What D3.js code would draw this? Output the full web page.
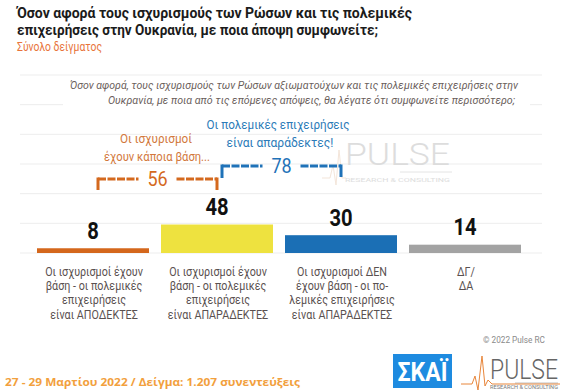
<!DOCTYPE html>
<html><head><meta charset="utf-8">
<script src="https://cdn.jsdelivr.net/npm/d3@7"></script>
<style>
html,body{margin:0;padding:0;background:#fff;}
svg{display:block;font-family:Roboto,"Noto Sans",sans-serif;}
</style></head>
<body><svg id="chart" width="576" height="391"></svg>
<script>
// ---- data ----
const categories = ["accept", "unacceptable", "nobasis", "dkna"];
const values = [8, 48, 30, 14];
const barColors = ["#D4671C", "#EEE23F", "#1B6FB5", "#A3A3A3"];
const categoryLabels = [
  ["Οι ισχυρισμοί έχουν", "βάση - οι πολεμικές", "επιχειρήσεις", "είναι ΑΠΟΔΕΚΤΕΣ"],
  ["Οι ισχυρισμοί έχουν", "βάση - οι πολεμικές", "επιχειρήσεις", "είναι ΑΠΑΡΑΔΕΚΤΕΣ"],
  ["Οι ισχυρισμοί ΔΕΝ", "έχουν βάση - οι πο-", "λεμικές επιχειρήσεις", "είναι ΑΠΑΡΑΔΕΚΤΕΣ"],
  ["ΔΓ/", "ΔΑ"]
];
const gridTicks = [0, 50, 100, 150, 200, 250, 300];
const groupTotals = [
  {label: "56", from: "accept", to: "unacceptable", color: "#D4691E", text: ["Οι ισχυρισμοί", "έχουν κάποια βάση..."], textColor: "#D2783C"},
  {label: "78", from: "unacceptable", to: "nobasis", color: "#1F72B8", text: ["Οι πολεμικές επιχειρήσεις", "είναι απαράδεκτες!"], textColor: "#2C7BB8"}
];
const titleLines = ["Όσον αφορά τους ισχυρισμούς των Ρώσων και τις πολεμικές", "επιχειρήσεις στην Ουκρανία, με ποια άποψη συμφωνείτε;"];
const subtitle = "Σύνολο δείγματος";
const questionLines = ["Όσον αφορά, τους ισχυρισμούς των Ρώσων αξιωματούχων και τις πολεμικές επιχειρήσεις στην",
  "Ουκρανία, με ποια από τις επόμενες απόψεις, θα λέγατε ότι συμφωνείτε περισσότερο;"];
const footer = "27 - 29  Μαρτίου  2022  /  Δείγμα:  1.207 συνεντεύξεις";
const copyright = "© 2022 Pulse RC";

// ---- layout ----
const svg = d3.select("#chart");
const x = d3.scaleBand().domain(categories).range([31, 527]).paddingInner(0.0968).paddingOuter(0.0484);
const y = d3.scaleLinear().domain([0, 300]).range([253, 75]);
const cx = c => x(c) + x.bandwidth() / 2;

function ctext(parent, px, py, str, o) {
  const g = parent.append("g").attr("transform", `translate(${px},${py}) scale(${o.sx || 1},1)`);
  const t = g.append("text").attr("x", 0).attr("y", 0)
    .attr("text-anchor", o.anchor || "middle")
    .attr("font-size", o.size).attr("font-weight", o.weight || 400)
    .attr("font-style", o.style || "normal")
    .attr("font-family", o.family || "Roboto")
    .attr("fill", o.color || "#000").text(str);
  if (o.len) t.attr("textLength", o.len).attr("lengthAdjust", "spacingAndGlyphs");
  return t;
}

// gridlines (the one behind the question text is interrupted)
svg.append("g").selectAll("line").data(gridTicks).join("line")
  .attr("x1", 20).attr("x2", 542)
  .attr("y1", d => y(d)).attr("y2", d => y(d))
  .attr("stroke", "#EDEDED").attr("stroke-width", 1)
  .attr("stroke-dasharray", d => d === 250 ? "43,467,12" : null);

// title
ctext(svg, 17, 17.5, titleLines[0], {anchor: "start", size: 15.5, weight: 700, color: "#1b1b1b", len: 395});
ctext(svg, 17, 35, titleLines[1], {anchor: "start", size: 15.5, weight: 700, color: "#1b1b1b", len: 361});
ctext(svg, 17, 50.5, subtitle, {anchor: "start", size: 12.5, color: "#E8743B", len: 85});

// question
ctext(svg, 70, 89, questionLines[0], {anchor: "start", size: 11.5, style: "italic", color: "#6a5e5b", len: 448});
ctext(svg, 108, 104, questionLines[1], {anchor: "start", size: 11.5, style: "italic", color: "#6a5e5b", len: 407});

// watermark
const wm = svg.append("g").attr("opacity", 0.9);
ctext(wm, 345, 165, "PULSE", {anchor: "start", size: 32, weight: 300, color: "#DADADA", len: 105});
wm.append("line").attr("x1", 400).attr("x2", 452).attr("y1", 172).attr("y2", 172).attr("stroke", "#E2E2E2");
ctext(wm, 345, 182, "RESEARCH & CONSULTING", {anchor: "start", size: 6, color: "#DADADA", len: 105});
wm.append("path").attr("d", "M322,178 L330,178 L333,165 L336,185 L339,150 L342,178 L346,178")
  .attr("fill", "none").attr("stroke", "#F3E3D6").attr("stroke-width", 1);

// bars
svg.append("g").selectAll("rect").data(values).join("rect")
  .attr("x", (d, i) => x(categories[i]))
  .attr("width", x.bandwidth())
  .attr("y", d => y(d))
  .attr("height", d => y(0) - y(d))
  .attr("fill", (d, i) => barColors[i]);

// value labels
values.forEach((v, i) => {
  ctext(svg, cx(categories[i]), y(v) - 9.5, String(v), {size: 23.5, weight: 700, color: "#111", sx: 0.86});
});

// category labels
categoryLabels.forEach((lines, i) => {
  lines.forEach((ln, j) => {
    ctext(svg, cx(categories[i]) + 1, 275.5 + j * 14.4, ln, {size: 12.5, color: "#5a5150", sx: 0.86});
  });
});

// group total brackets
const bracketLevels = [179, 166];
const bracketDrops = [[190, 190], [178, 177]];
const numBase = [186, 173];
const textBase = [[142.5, 161], [128.5, 147]];
const textLens = [[72, 106], [143, 107]];
const textCx = [[156, 157], [278, 280]];
groupTotals.forEach((g, k) => {
  const x1 = cx(g.from) + 5, x2 = cx(g.to);
  const yl = bracketLevels[k], mid = (x1 + x2) / 2, gap = 19;
  const grp = svg.append("g").attr("stroke", g.color).attr("stroke-width", 3).attr("fill", "none");
  grp.append("line").attr("x1", x1).attr("x2", x1).attr("y1", yl - 1.5).attr("y2", bracketDrops[k][0]);
  grp.append("line").attr("x1", x2).attr("x2", x2).attr("y1", yl - 1.5).attr("y2", bracketDrops[k][1]);
  grp.append("line").attr("x1", x1).attr("x2", mid - gap).attr("y1", yl).attr("y2", yl).attr("stroke-dasharray", "8,1.5");
  grp.append("line").attr("x1", mid + gap).attr("x2", x2).attr("y1", yl).attr("y2", yl).attr("stroke-dasharray", "8,1.5");
  ctext(svg, mid, numBase[k], g.label, {size: 20, weight: 400, color: g.color, sx: 0.9});
  g.text.forEach((ln, j) => {
    ctext(svg, textCx[k][j], textBase[k][j], ln, {size: 12.5, color: g.textColor, len: textLens[k][j]});
  });
});

// copyright
ctext(svg, 483, 343, copyright, {anchor: "start", size: 8.5, color: "#8a8a8a", len: 62});

// footer
ctext(svg, 5, 386, footer, {anchor: "start", size: 11, weight: 700, color: "#F2A03D", family: "'Open Sans'", len: 295});

// logos
svg.append("rect").attr("x", 393).attr("y", 354).attr("width", 59).attr("height", 34).attr("fill", "#1E8BE0");
ctext(svg, 422.5, 381, "ΣΚΑΪ", {size: 25, weight: 700, color: "#fff", len: 50});
ctext(svg, 490, 379, "PULSE", {anchor: "start", size: 27, weight: 300, color: "#666", len: 68});
svg.append("line").attr("x1", 515).attr("x2", 558).attr("y1", 383).attr("y2", 383).attr("stroke", "#999").attr("stroke-width", 0.6);
ctext(svg, 490, 389, "RESEARCH & CONSULTING", {anchor: "start", size: 4.5, color: "#777", len: 68});
svg.append("path").attr("d", "M461,384 L472,384 L475,376 L478,390 L482,356 L485,386 L488,380 L492,384 L560,384")
  .attr("fill", "none").attr("stroke", "#E8863B").attr("stroke-width", 1);
</script></body></html>
